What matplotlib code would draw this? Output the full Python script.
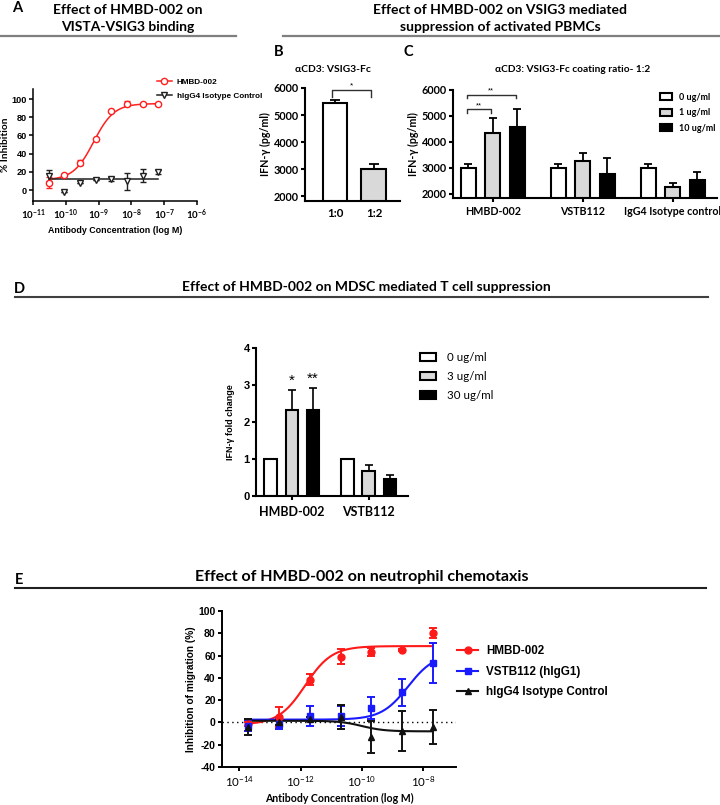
import numpy as np
import matplotlib
matplotlib.use('Agg')
import matplotlib.pyplot as plt
from matplotlib.lines import Line2D

plt.rcParams['font.family'] = ['Liberation Sans', 'DejaVu Sans']
plt.rcParams['mathtext.fontset'] = 'custom'
plt.rcParams['mathtext.bf'] = 'Lato:bold'
plt.rcParams['mathtext.rm'] = 'Lato'
plt.rcParams['axes.unicode_minus'] = False

CAL = ['Lato', 'DejaVu Sans']
ARI = ['Liberation Sans', 'DejaVu Sans']

# ---------------- data ----------------
# Panel A
a_conc = [3.05e-11, 9.1e-11, 2.74e-10, 8.2e-10, 2.47e-9, 7.4e-9, 2.22e-8, 6.67e-8]
a_hmbd = [8, 17, 30, 56, 87, 95, 94, 95]
a_hmbd_err = [6, 1, 3, 1, 1, 3, 1, 1]
a_iso = [16, -2, 8, 11, 12, 9.5, 16, 20]
a_iso_err = [6, 0, 0, 0, 2, 9, 7, 2]
a_hmbd_fit = [11, 95, -9.15, 1.4]     # bottom, top, logEC50, hill
a_iso_fit = [12, 12, -9.0, 1.0]
a_xticks = [1e-11, 1e-10, 1e-9, 1e-8, 1e-7, 1e-6]
a_xticklabels = ['-11', '-10', '-9', '-8', '-7', '-6']

# Panel B
b_cats = ['1:0', '1:2']
b_vals = [5460, 2985]
b_errs = [85, 185]

# Panel C
c_groups = ['HMBD-002', 'VSTB112', 'IgG4 Isotype control']
c_doses = ['0 ug/ml', '1 ug/ml', '10 ug/ml']
c_vals = [[3000, 3000, 3000], [4325, 3270, 2245], [4560, 2740, 2527]]
c_errs = [[150, 150, 150], [600, 290, 165], [710, 620, 290]]

# Panel D
d_groups = ['HMBD-002', 'VSTB112']
d_doses = ['0 ug/ml', '3 ug/ml', '30 ug/ml']
d_vals = [[1.0, 1.0], [2.32, 0.67], [2.32, 0.45]]
d_errs = [[0.0, 0.0], [0.55, 0.17], [0.61, 0.11]]
d_stars = ['', '*', '**']

# Panel E
e_conc = [2e-14, 2e-13, 2e-12, 2e-11, 2e-10, 2e-9, 2e-8]
e_names = ['HMBD-002', 'VSTB112 (hIgG1)', 'hIgG4 Isotype Control']
e_hmbd = [-1.5, 5, 38.5, 59, 63, 65, 80.5]
e_hmbd_err = [2, 9, 5, 7, 3.5, 1, 4.5]
e_vstb = [-3, -1, 5.5, 5.5, 13, 27, 53]
e_vstb_err = [5, 5, 9, 9, 10, 12, 18]
e_iso = [-4, 0, 3, 5, -13, -8, -4]
e_iso_err = [7, 2, 2, 10.5, 14, 18, 15.5]
e_fits = [[-2, 68.5, -11.85, 1.0], [2.5, 62, -8.5, 1.0], [1.5, -8, -10.0, 1.2]]
e_xticks = [1e-14, 1e-12, 1e-10, 1e-8]
e_xticklabels = ['-14', '-12', '-10', '-8']

# ---------------- helpers ----------------
W, H = 720, 805
fig = plt.figure(figsize=(W / 100, H / 100), dpi=100)


def add_ax(l, t, r, b):
    return fig.add_axes([l / W, 1 - b / H, (r - l) / W, (b - t) / H])


def ftext(x, y, s, **kw):
    kw.setdefault('ha', 'center')
    kw.setdefault('va', 'center')
    fig.text(x / W, 1 - y / H, s, **kw)


def fline(x0, x1, y, color, lw):
    fig.add_artist(Line2D([x0 / W, x1 / W], [1 - y / H, 1 - y / H], color=color, lw=lw))


def four_pl(x_log, p):
    bottom, top, logec, hill = p
    return bottom + (top - bottom) / (1 + 10 ** ((logec - x_log) * hill))


def style_axis(ax, lw, fam, fs, bold=True):
    for s in ['top', 'right']:
        ax.spines[s].set_visible(False)
    for s in ['left', 'bottom']:
        ax.spines[s].set_linewidth(lw)
    ax.tick_params(width=lw, length=3, direction='out', pad=1.5)
    for lab in ax.get_yticklabels():
        lab.set_fontfamily(fam)
        lab.set_fontsize(fs)
        lab.set_fontweight('bold' if bold else 'normal')


# ---------------- titles & rules ----------------
TFS = 10
ftext(17, 8, 'A', fontfamily=CAL, fontsize=10.5, fontweight='bold')
ftext(128, 10, 'Effect of HMBD-002 on', fontfamily=CAL, fontsize=TFS, fontweight='bold')
ftext(128, 27, 'VISTA-VSIG3 binding', fontfamily=CAL, fontsize=TFS, fontweight='bold')
fline(0, 236, 36, '#7f7f7f', 1.6)

ftext(500, 10, 'Effect of HMBD-002 on VSIG3 mediated', fontfamily=CAL, fontsize=TFS, fontweight='bold')
ftext(500, 27, 'suppression of activated PBMCs', fontfamily=CAL, fontsize=TFS, fontweight='bold')
fline(283, 720, 36, '#7f7f7f', 1.6)
ftext(279, 52, 'B', fontfamily=CAL, fontsize=10.5, fontweight='bold')
ftext(408, 52, 'C', fontfamily=CAL, fontsize=10.5, fontweight='bold')
ftext(333, 70, 'αCD3: VSIG3-Fc', fontfamily=CAL, fontsize=7.4, fontweight='bold')
ftext(573, 70, 'αCD3: VSIG3-Fc coating ratio- 1:2', fontfamily=CAL, fontsize=7.3, fontweight='bold')

ftext(19, 289, 'D', fontfamily=CAL, fontsize=10.5, fontweight='bold')
ftext(366, 287, 'Effect of HMBD-002 on MDSC mediated T cell suppression', fontfamily=CAL,
      fontsize=TFS, fontweight='bold')
fline(15, 708, 297, '#404040', 1.5)

ftext(19, 580, 'E', fontfamily=CAL, fontsize=10.5, fontweight='bold')
ftext(362, 577, 'Effect of HMBD-002 on neutrophil chemotaxis', fontfamily=CAL,
      fontsize=11.5, fontweight='bold')
fline(15, 706, 588, '#202020', 1.5)

# ---------------- Panel A ----------------
axA = add_ax(33, 89, 197, 201)
axA.set_xscale('log')
axA.set_xlim(1e-11, 1e-6)
axA.set_ylim(-12, 111)
xs = np.linspace(np.log10(a_conc[0]), np.log10(a_conc[-1]), 200)
axA.plot(10 ** xs, four_pl(xs, a_hmbd_fit), color='#ff2020', lw=1.1)
axA.plot(10 ** xs, four_pl(xs, a_iso_fit), color='#202020', lw=1.1)
axA.errorbar(a_conc, a_hmbd, yerr=a_hmbd_err, fmt='o', color='#ff2020', mfc='white', mec='#ff2020',
             ms=4.5, mew=1.0, elinewidth=1.0, capsize=2.5, capthick=1.0)
axA.errorbar(a_conc, a_iso, yerr=a_iso_err, fmt='v', color='#202020', mfc='white', mec='#202020',
             ms=4.5, mew=1.0, elinewidth=1.0, capsize=2.5, capthick=1.0)
axA.set_yticks([0, 20, 40, 60, 80, 100])
axA.set_xticks(a_xticks)
axA.set_xticklabels([r'$\mathbf{10^{' + t + '}}$' for t in a_xticklabels], fontsize=7)
axA.minorticks_off()
style_axis(axA, 1.1, ARI, 6.6)
axA.set_ylabel('% Inhibition', fontfamily=CAL, fontsize=7.3, fontweight='bold', labelpad=1)
axA.set_xlabel('Antibody Concentration (log M)', fontfamily=ARI, fontsize=6.4, fontweight='bold',
               labelpad=3)
hA = [Line2D([], [], color='#ff2020', marker='o', mfc='white', ms=4.5, lw=1.1),
      Line2D([], [], color='#202020', marker='v', mfc='white', ms=4.5, lw=1.1)]
axA.legend(hA, ['HMBD-002', 'hIgG4 Isotype Control'], loc='upper left',
           bbox_to_anchor=(157 / W, 1 - 78 / H), bbox_transform=fig.transFigure,
           frameon=False, prop={'family': ARI, 'size': 5.9, 'weight': 'bold'},
           handlelength=1.8, handletextpad=0.6, labelspacing=0.75, borderpad=0, borderaxespad=0)

# ---------------- Panel B ----------------
axB = add_ax(305, 88, 400, 201)
bx = np.arange(len(b_cats))
axB.bar(bx, b_vals, 0.64, color=['white', '#d9d9d9'], edgecolor='black', linewidth=1.5, zorder=2)
axB.errorbar(bx, b_vals, yerr=[np.zeros(len(b_vals)), b_errs], fmt='none', ecolor='black',
             elinewidth=1.3, capsize=3.5, capthick=1.3, zorder=1)
axB.set_xlim(-0.77, 1.67)
axB.set_ylim(1815, 6000)
axB.set_yticks([2000, 3000, 4000, 5000, 6000])
axB.set_xticks(bx)
axB.set_xticklabels(b_cats, fontfamily=CAL, fontsize=8.3, fontweight='bold')
style_axis(axB, 1.5, CAL, 7.8)
axB.tick_params(axis='x', length=0, pad=5)
axB.set_ylabel('IFN-γ (pg/ml)', fontfamily=CAL, fontsize=7.7, fontweight='bold', labelpad=2)
yb = 5915
axB.plot([bx[0] - 0.08, bx[0] - 0.08, bx[1] - 0.08, bx[1] - 0.08], [5667, yb, yb, 5667],
         color='#303030', lw=1.0, clip_on=False)
axB.text((bx[0] + bx[1]) / 2 - 0.08, yb + 20, '*', ha='center', va='bottom', fontsize=6,
         fontfamily=ARI, clip_on=False)

# ---------------- Panel C ----------------
axC = add_ax(453, 90, 717, 198)
cg = np.arange(len(c_groups))
c_colors = ['white', '#d9d9d9', 'black']
for i in range(len(c_doses)):
    x = cg + (i - 1) * 0.272
    axC.bar(x, c_vals[i], 0.167, color=c_colors[i], edgecolor='black', linewidth=1.5, zorder=2,
            label=c_doses[i])
    axC.errorbar(x, c_vals[i], yerr=[np.zeros(len(cg)), c_errs[i]], fmt='none', ecolor='black',
                 elinewidth=1.3, capsize=3, capthick=1.3, zorder=1)
axC.set_xlim(-0.444, 2.49)
axC.set_ylim(1830, 6000)
axC.set_yticks([2000, 3000, 4000, 5000, 6000])
axC.set_xticks(cg)
axC.set_xticklabels(c_groups, fontfamily=CAL, fontsize=7.7, fontweight='bold')
style_axis(axC, 1.5, CAL, 7.8)
axC.tick_params(axis='x', pad=3)
axC.set_ylabel('IFN-γ (pg/ml)', fontfamily=CAL, fontsize=7.7, fontweight='bold', labelpad=2)
x0 = cg[0] - 0.272 - 0.02
x1 = cg[0] - 0.02
x2 = cg[0] + 0.272 - 0.02
axC.plot([x0, x0, x1, x1], [5100, 5256, 5256, 5100], color='#303030', lw=1.0)
axC.text((x0 + x1) / 2, 5270, '**', ha='center', va='bottom', fontsize=5.5, fontfamily=ARI)
axC.plot([x0, x0, x2, x2], [5680, 5810, 5810, 5680], color='#303030', lw=1.0, clip_on=False)
axC.text((x0 + x2) / 2, 5830, '**', ha='center', va='bottom', fontsize=5.5, fontfamily=ARI,
         clip_on=False)
axC.legend(loc='upper left', bbox_to_anchor=(660 / W, 1 - 93 / H), bbox_transform=fig.transFigure,
           frameon=False, prop={'family': CAL, 'size': 6.5, 'weight': 'bold'},
           handlelength=1.3, handleheight=0.8, handletextpad=0.8, labelspacing=0.7,
           borderpad=0, borderaxespad=0)

# ---------------- Panel D ----------------
axD = add_ax(256, 348, 408, 496)
dg = np.arange(len(d_groups))
for i in range(len(d_doses)):
    x = dg + (i - 1) * 0.277
    axD.bar(x, d_vals[i], 0.162, color=c_colors[i], edgecolor='black', linewidth=1.5, zorder=2,
            label=d_doses[i])
    if max(d_errs[i]) > 0:
        axD.errorbar(x, d_vals[i], yerr=[np.zeros(len(dg)), d_errs[i]], fmt='none', ecolor='black',
                     elinewidth=1.2, capsize=3, capthick=1.2, zorder=1)
    if d_stars[i]:
        axD.text(x[0], d_vals[i][0] + d_errs[i][0] + 0.05, d_stars[i], ha='center', va='bottom',
                 fontsize=11, fontfamily=ARI)
axD.set_xlim(-0.465, 1.513)
axD.set_ylim(0, 4)
axD.set_yticks([0, 1, 2, 3, 4])
axD.set_xticks(dg)
axD.set_xticklabels(d_groups, fontfamily=CAL, fontsize=9, fontweight='bold')
style_axis(axD, 1.5, ARI, 8)
axD.tick_params(axis='x', pad=4)
axD.set_ylabel('IFN-γ fold change', fontfamily=ARI, fontsize=6.5, fontweight='bold', labelpad=6)
axD.legend(loc='upper left', bbox_to_anchor=(420 / W, 1 - 352 / H), bbox_transform=fig.transFigure,
           frameon=False, prop={'family': CAL, 'size': 8.3},
           handlelength=1.4, handleheight=0.75, handletextpad=0.9, labelspacing=0.7,
           borderpad=0, borderaxespad=0)

# ---------------- Panel E ----------------
axE = add_ax(222, 611, 456, 767)
axE.set_xscale('log')
axE.set_xlim(10 ** -14.56, 10 ** -6.94)
axE.set_ylim(-40, 100)
axE.axhline(0, color='black', lw=1.0, ls=(0, (1, 2.5)), zorder=0)
e_series = [e_hmbd, e_vstb, e_iso]
e_errors = [e_hmbd_err, e_vstb_err, e_iso_err]
e_colors = ['#ff1a1a', '#1a1aff', '#111111']
e_markers = ['o', 's', '^']
xs = np.linspace(np.log10(e_conc[0]), np.log10(e_conc[-1]), 300)
handles = []
for vals, errs, col, mk, fit in zip(e_series, e_errors, e_colors, e_markers, e_fits):
    axE.plot(10 ** xs, four_pl(xs, fit), color=col, lw=1.5, zorder=2)
    axE.errorbar(e_conc, vals, yerr=errs, fmt=mk, color=col, ms=5, elinewidth=1.4,
                 capsize=3, capthick=1.4, zorder=3)
    handles.append(Line2D([], [], color=col, marker=mk, ms=5, lw=1.5))
axE.set_yticks([-40, -20, 0, 20, 40, 60, 80, 100])
axE.set_xticks(e_xticks)
axE.set_xticklabels([r'$\mathrm{10^{' + t + '}}$' for t in e_xticklabels], fontsize=8.3)
axE.minorticks_off()
style_axis(axE, 1.4, ARI, 7.5)
axE.tick_params(axis='x', pad=3)
axE.set_ylabel('Inhibition of migration (%)', fontfamily=ARI, fontsize=7.3, fontweight='bold',
               labelpad=2)
axE.set_xlabel('Antibody Concentration (log M)', fontfamily=CAL, fontsize=7.6, fontweight='bold',
               labelpad=2)
axE.legend(handles, e_names, loc='upper left', bbox_to_anchor=(457 / W, 1 - 645 / H),
           bbox_transform=fig.transFigure, frameon=False,
           prop={'family': ARI, 'size': 8.4, 'weight': 'bold'},
           handlelength=1.8, handletextpad=0.7, labelspacing=0.75, borderpad=0, borderaxespad=0)

fig.savefig('out.png', dpi=100)
